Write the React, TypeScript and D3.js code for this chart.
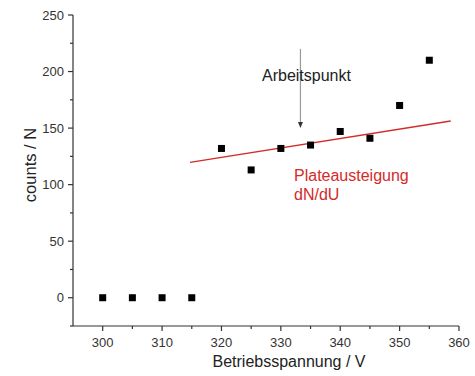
import React, { useEffect, useRef } from 'react';
import * as d3 from 'd3';

const voltages = [300, 305, 310, 315, 320, 325, 330, 335, 340, 345, 350, 355];
const counts = [0, 0, 0, 0, 132, 113, 132, 135, 147, 141, 170, 210];
const fitLine: [number, number][] = [[314.7, 119.7], [358.6, 156.3]];
const arrowX = 333.3;
const arrowRange = [220, 150];
const xTicks = [300, 310, 320, 330, 340, 350, 360];
const yTicks = [0, 50, 100, 150, 200, 250];

export default () => {
  const svgRef = useRef<SVGSVGElement>(null);
  const width = 475;
  const height = 376;
  const left = 73;
  const right = 459;
  const top = 15;
  const bottom = 326;
  const font = 'Liberation Sans, Arial, sans-serif';

  useEffect(() => {
    if (!svgRef.current) return;
    const svg = d3.select(svgRef.current);
    svg.selectAll('*').remove();

    const x = d3.scaleLinear().domain([295, 360]).range([left, right]);
    const y = d3.scaleLinear().domain([-25, 250]).range([bottom, top]);

    const axisColor = '#333';

    // x axis
    const xg = svg.append('g');
    xg.append('line')
      .attr('x1', left).attr('x2', right)
      .attr('y1', bottom).attr('y2', bottom)
      .attr('stroke', axisColor).attr('stroke-width', 1.2);
    xg.selectAll('line.minor')
      .data(d3.range(300, 361, 5))
      .enter().append('line')
      .attr('class', 'minor')
      .attr('x1', d => x(d)).attr('x2', d => x(d))
      .attr('y1', bottom).attr('y2', d => bottom + (d % 10 === 0 ? 5 : 3))
      .attr('stroke', axisColor).attr('stroke-width', 1.2);
    xg.selectAll('text')
      .data(xTicks)
      .enter().append('text')
      .attr('x', d => x(d)).attr('y', 346.5)
      .attr('text-anchor', 'middle')
      .attr('font-family', font).attr('font-size', 13)
      .attr('fill', '#333')
      .text(d => d);

    // y axis
    const yg = svg.append('g');
    yg.append('line')
      .attr('x1', left).attr('x2', left)
      .attr('y1', top).attr('y2', bottom)
      .attr('stroke', axisColor).attr('stroke-width', 1.2);
    yg.selectAll('line.minor')
      .data(d3.range(-25, 251, 25))
      .enter().append('line')
      .attr('class', 'minor')
      .attr('x1', left).attr('x2', d => left - (d % 50 === 0 ? 5 : 3))
      .attr('y1', d => y(d)).attr('y2', d => y(d))
      .attr('stroke', axisColor).attr('stroke-width', 1.2);
    yg.selectAll('text')
      .data(yTicks)
      .enter().append('text')
      .attr('x', left - 9).attr('y', d => y(d) + 4.7)
      .attr('text-anchor', 'end')
      .attr('font-family', font).attr('font-size', 13)
      .attr('fill', '#333')
      .text(d => d);

    // axis titles
    svg.append('text')
      .attr('x', 289).attr('y', 367)
      .attr('text-anchor', 'middle')
      .attr('font-family', font).attr('font-size', 16)
      .attr('fill', '#222')
      .text('Betriebsspannung / V');
    svg.append('text')
      .attr('transform', 'translate(36, 165) rotate(-90)')
      .attr('text-anchor', 'middle')
      .attr('font-family', font).attr('font-size', 16.5)
      .attr('fill', '#222')
      .text('counts / N');

    // fit line
    svg.append('path')
      .datum(fitLine)
      .attr('d', d3.line<[number, number]>().x(d => x(d[0])).y(d => y(d[1])))
      .attr('stroke', '#d42a2a').attr('stroke-width', 1.4).attr('fill', 'none');

    // data points
    const s = 7;
    svg.selectAll('rect.pt')
      .data(voltages.map((v, i) => [v, counts[i]]))
      .enter().append('rect')
      .attr('class', 'pt')
      .attr('x', d => x(d[0]) - s / 2).attr('y', d => y(d[1]) - s / 2)
      .attr('width', s).attr('height', s)
      .attr('fill', '#000');

    // arrow
    const ax = x(arrowX);
    svg.append('line')
      .attr('x1', ax).attr('x2', ax)
      .attr('y1', y(arrowRange[0])).attr('y2', y(arrowRange[1]) - 5)
      .attr('stroke', '#999').attr('stroke-width', 1.2);
    svg.append('path')
      .attr('d', `M${ax - 2.5},${y(arrowRange[1]) - 6} L${ax + 2.5},${y(arrowRange[1]) - 6} L${ax},${y(arrowRange[1])} Z`)
      .attr('fill', '#333');

    svg.append('text')
      .attr('x', 262).attr('y', 81)
      .attr('font-family', font).attr('font-size', 16)
      .attr('fill', '#222')
      .text('Arbeitspunkt');

    svg.append('text')
      .attr('x', 294).attr('y', 181)
      .attr('font-family', font).attr('font-size', 16)
      .attr('fill', '#d42a2a')
      .text('Plateausteigung');
    svg.append('text')
      .attr('x', 294).attr('y', 200)
      .attr('font-family', font).attr('font-size', 16)
      .attr('fill', '#d42a2a')
      .text('dN/dU');
  }, []);

  return (
    <svg
      ref={svgRef}
      width={width}
      height={height}
      style={{ position: 'absolute', left: 0, top: 0, background: '#fff' }}
    />
  );
};
